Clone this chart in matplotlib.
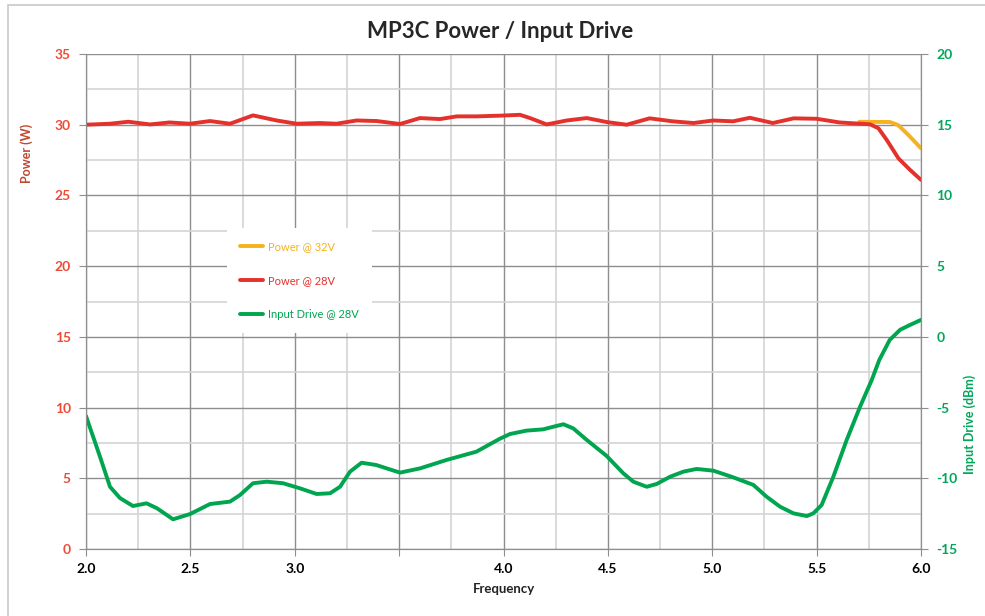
import matplotlib
matplotlib.use("Agg")
import matplotlib.pyplot as plt
from matplotlib.patches import Rectangle
from matplotlib.ticker import MultipleLocator, FixedLocator, FixedFormatter

plt.rcParams["font.family"] = ["Lato", "DejaVu Sans"]
plt.rcParams["axes.unicode_minus"] = False

# Power @ 28V (W)
freq_28 = [2.0, 2.115, 2.203, 2.307, 2.40, 2.498, 2.594, 2.69, 2.80, 2.913, 3.009,
           3.12, 3.20, 3.297, 3.393, 3.504, 3.60, 3.696, 3.776, 3.87, 3.983, 4.079,
           4.127, 4.207, 4.303, 4.399, 4.494, 4.59, 4.70, 4.81, 4.91, 5.005, 5.10,
           5.18, 5.29, 5.39, 5.50, 5.61, 5.676, 5.756, 5.796, 5.836, 5.892, 5.948, 6.0]
power_28 = [30.0, 30.07, 30.21, 30.02, 30.16, 30.07, 30.26, 30.07, 30.66, 30.3, 30.07,
            30.12, 30.07, 30.3, 30.26, 30.05, 30.47, 30.4, 30.59, 30.59, 30.64, 30.7,
            30.47, 30.02, 30.3, 30.47, 30.19, 30.0, 30.45, 30.24, 30.12, 30.3, 30.24,
            30.49, 30.12, 30.45, 30.42, 30.16, 30.1, 30.03, 29.75, 28.92, 27.62, 26.8, 26.1]

# Power @ 32V (W)
freq_32 = [5.705, 5.851, 5.89, 5.94, 6.0]
power_32 = [30.21, 30.19, 29.98, 29.27, 28.33]

# Input Drive @ 28V (dBm)
freq_drive = [2.0, 2.067, 2.115, 2.163, 2.225, 2.29, 2.34, 2.417, 2.498, 2.594, 2.69,
              2.738, 2.80, 2.866, 2.944, 3.025, 3.105, 3.169, 3.217, 3.265, 3.32, 3.39,
              3.504, 3.60, 3.728, 3.87, 3.983, 4.031, 4.11, 4.19, 4.24, 4.287, 4.334,
              4.399, 4.494, 4.574, 4.622, 4.686, 4.734, 4.798, 4.862, 4.925, 5.005, 5.10,
              5.197, 5.26, 5.325, 5.389, 5.453, 5.484, 5.524, 5.58, 5.644, 5.708, 5.764,
              5.80, 5.85, 5.90, 5.947, 6.0]
drive_28 = [-5.6, -8.47, -10.6, -11.4, -11.96, -11.77, -12.12, -12.9, -12.53, -11.82, -11.65,
            -11.18, -10.35, -10.24, -10.35, -10.71, -11.11, -11.06, -10.6, -9.53, -8.9, -9.06,
            -9.6, -9.3, -8.7, -8.12, -7.2, -6.87, -6.63, -6.54, -6.35, -6.18, -6.47,
            -7.29, -8.42, -9.65, -10.24, -10.6, -10.4, -9.89, -9.53, -9.34, -9.46, -9.93,
            -10.47, -11.3, -12.01, -12.48, -12.67, -12.48, -11.89, -9.89, -7.29, -4.94, -3.05,
            -1.64, -0.22, 0.5, 0.84, 1.2]

x_labels = ["2.0", "2.5", "3.0", "", "4.0", "4.5", "5.0", "5.5", "6.0"]

RED = "#E4312B"
YELLOW = "#F6B21E"
GREEN = "#00A550"
RED_TXT = "#EE4B36"
GREEN_TXT = "#00A65A"

fig = plt.figure(figsize=(9.85, 6.16), dpi=100)
fig.patches.append(Rectangle((8 / 985, -0.1), 1.2, 1.1 - 5 / 616, transform=fig.transFigure,
                             fill=False, edgecolor="#c8c8c8", linewidth=1.2))

ax = fig.add_axes([86 / 985, 1 - 549 / 616, (921 - 86) / 985, (549 - 54) / 616])
ax2 = ax.twinx()

ax.set_xlim(2.0, 6.0)
ax.set_ylim(0, 35)
ax2.set_ylim(-15, 20)

ax.xaxis.set_major_locator(FixedLocator([2.0, 2.5, 3.0, 3.5, 4.0, 4.5, 5.0, 5.5, 6.0]))
ax.xaxis.set_major_formatter(FixedFormatter(x_labels))
ax.xaxis.set_minor_locator(MultipleLocator(0.25))
ax.yaxis.set_major_locator(MultipleLocator(5))
ax.yaxis.set_minor_locator(MultipleLocator(2.5))
ax2.yaxis.set_major_locator(MultipleLocator(5))

ax.grid(which="minor", color="#d4d4d4", linewidth=1.2)
ax.grid(which="major", color="#8e8e8e", linewidth=1.0)
ax.set_axisbelow(True)

for a in (ax, ax2):
    for s in a.spines.values():
        s.set_color("#8e8e8e")
    a.spines["top"].set_visible(False)

ax.tick_params(axis="x", which="major", length=5, color="#8e8e8e", labelsize=10, pad=5)
ax.tick_params(axis="x", which="minor", length=0)
ax.tick_params(axis="y", which="major", length=5, color="#8e8e8e", labelsize=10,
               labelcolor=RED_TXT, pad=6)
ax.tick_params(axis="y", which="minor", length=0)
ax2.tick_params(axis="y", length=5, color="#8e8e8e", labelsize=10, labelcolor=GREEN_TXT, pad=6)
for lab in ax.get_xticklabels() + ax.get_yticklabels() + ax2.get_yticklabels():
    lab.set_fontweight("bold")

line_kw = dict(linewidth=2.8, solid_joinstyle="round", solid_capstyle="round")
l1, = ax.plot(freq_32, power_32, color=YELLOW, label="Power @ 32V", zorder=3, **line_kw)
l2, = ax.plot(freq_28, power_28, color=RED, label="Power @ 28V", zorder=4, **line_kw)
l3, = ax2.plot(freq_drive, drive_28, color=GREEN, label="Input Drive @ 28V", **line_kw)

ax.set_xlabel("Frequency", fontsize=9.5, fontweight="bold", color="#222222", labelpad=6)
fig.text(27 / 985, 1 - 153 / 616, "Power (W)", rotation=90, ha="center", va="center",
         fontsize=9, fontweight="bold", color="#C0452F")
fig.text(970 / 985, 1 - 424 / 616, "Input Drive (dBm)", rotation=90, ha="center", va="center",
         fontsize=9, fontweight="bold", color=GREEN_TXT)

fig.text(500 / 985, 1 - 31 / 616, "MP3C Power / Input Drive", ha="center", va="center",
         fontsize=16, fontweight="bold", color="#262626")

leg = ax2.legend(handles=[l1, l2, l3], loc="upper left",
                 bbox_to_anchor=((227 - 86) / 835, (549 - 228) / 495),
                 frameon=True, fancybox=False, edgecolor="white", facecolor="white", framealpha=1,
                 fontsize=8, labelspacing=2.05, handlelength=2.0, borderpad=1.2, handletextpad=0.5,
                 borderaxespad=0)
leg.get_frame().set_linewidth(0)
for txt, col in zip(leg.get_texts(), [YELLOW, RED, GREEN]):
    txt.set_color(col)

fig.savefig("out.png", dpi=100)
